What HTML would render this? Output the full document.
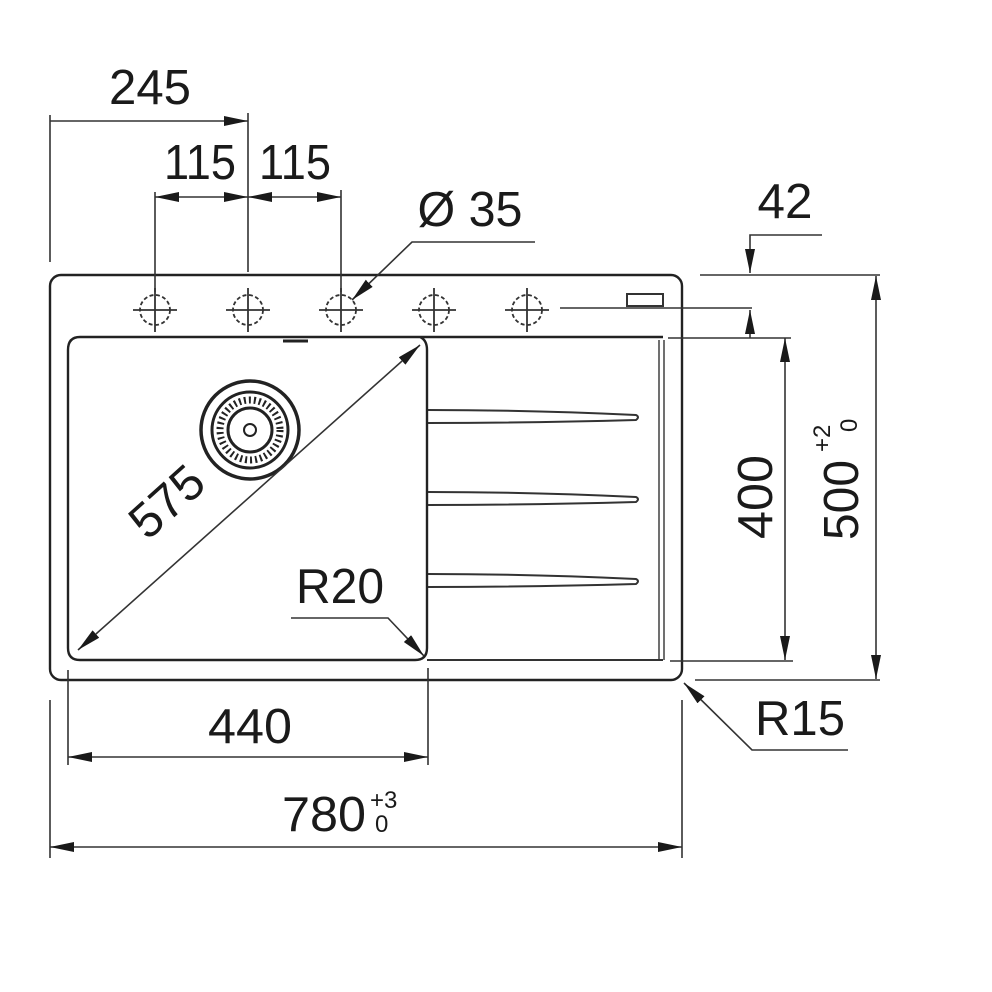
<!DOCTYPE html>
<html><head><meta charset="utf-8"><style>
html,body{margin:0;padding:0;background:#fff;}
svg{display:block}
text{font-family:"Liberation Sans",sans-serif;fill:#1a1a1a;}
</style></head><body>
<svg width="992" height="992" viewBox="0 0 992 992" xmlns="http://www.w3.org/2000/svg">
<defs>
<marker id="a" viewBox="0 0 24 10" refX="24" refY="5" markerWidth="24" markerHeight="10" markerUnits="userSpaceOnUse" orient="auto-start-reverse">
<path d="M0,0 L24,5 L0,10 Z" fill="#1a1a1a"/></marker>
</defs>
<g fill="none" stroke="#333" stroke-width="1.6">
<rect x="50" y="275" width="632" height="405" rx="11" stroke-width="2.4" stroke="#222"/>
<path d="M80,337 H663 M80,337 Q68,337 68,350 V648 Q68,660 80,660 H415 Q427,660 427,648 V350 Q427,340 420,337" stroke-width="2.4" stroke="#222"/>
<path d="M427,660 H663" stroke-width="2"/>
<path d="M659,340 V660 M664,340 V660" stroke-width="1.4"/>
<path d="M283,341 H308" stroke-width="3" stroke="#222"/>
<g stroke-width="2">
<path d="M428,410 Q530,410 636,415 Q640,417 636,420 Q530,423 428,423"/>
<path d="M428,492 Q530,492 636,497 Q640,499 636,502 Q530,505 428,505"/>
<path d="M428,574 Q530,574 636,579 Q640,581 636,584 Q530,587 428,587"/>
</g>
<g stroke-width="1.8">
<g stroke-dasharray="4,2.5">
<circle cx="155" cy="310" r="15"/><circle cx="248" cy="310" r="15"/><circle cx="341" cy="310" r="15"/><circle cx="434" cy="310" r="15"/><circle cx="527" cy="310" r="15"/>
</g>
<path d="M133,310h44M155,288v44 M226,310h44M248,288v44 M319,310h44M341,288v44 M412,310h44M434,288v44 M505,310h44M527,288v44"/>
</g>
<rect x="627" y="294" width="36" height="12" stroke-width="2"/>
<path d="M560,308 H752"/>
<g stroke="#222">
<circle cx="250" cy="430" r="49" stroke-width="3.5"/>
<circle cx="250" cy="430" r="38" stroke-width="3"/>
<circle cx="250" cy="430" r="30" stroke-width="7" stroke-dasharray="2,3"/>
<circle cx="250" cy="430" r="22" stroke-width="3"/>
<circle cx="250" cy="430" r="6" stroke-width="2"/>
</g>
<path d="M50,115 V262 M248,113 V272 M155,192 V292 M341,190 V292"/>
<path d="M50,121 H248" marker-end="url(#a)"/>
<path d="M155,197 H248" marker-start="url(#a)" marker-end="url(#a)"/>
<path d="M248,197 H341" marker-start="url(#a)" marker-end="url(#a)"/>
<path d="M535,242 H412 L352,300" marker-end="url(#a)"/>
<path d="M822,235 H750 V273" marker-end="url(#a)"/>
<path d="M750,338 V310" marker-end="url(#a)"/>
<path d="M700,275 H880 M668,338 H791 M670,661 H793 M695,680 H880"/>
<path d="M785,338 V660" marker-start="url(#a)" marker-end="url(#a)"/>
<path d="M876,276 V679" marker-start="url(#a)" marker-end="url(#a)"/>
<path d="M78,650 L420,345" marker-start="url(#a)" marker-end="url(#a)"/>
<path d="M291,618 H388 L424,656" marker-end="url(#a)"/>
<path d="M848,750 H752 L684,683" marker-end="url(#a)"/>
<path d="M68,670 V765 M428,668 V765 M50,700 V858 M682,700 V858"/>
<path d="M68,757 H428" marker-start="url(#a)" marker-end="url(#a)"/>
<path d="M50,847 H682" marker-start="url(#a)" marker-end="url(#a)"/>
</g>
<g font-size="49">
<text x="150" y="104" text-anchor="middle" textLength="82" lengthAdjust="spacingAndGlyphs">245</text>
<text x="200" y="179" text-anchor="middle" textLength="72" lengthAdjust="spacingAndGlyphs">115</text>
<text x="295" y="179" text-anchor="middle" textLength="72" lengthAdjust="spacingAndGlyphs">115</text>
<text x="470" y="226" text-anchor="middle" textLength="105" lengthAdjust="spacingAndGlyphs">Ø 35</text>
<text x="785" y="218" text-anchor="middle" textLength="55" lengthAdjust="spacingAndGlyphs">42</text>
<text x="340" y="603" text-anchor="middle" textLength="88" lengthAdjust="spacingAndGlyphs">R20</text>
<text x="800" y="735" text-anchor="middle" textLength="90" lengthAdjust="spacingAndGlyphs">R15</text>
<text x="250" y="743" text-anchor="middle" textLength="84" lengthAdjust="spacingAndGlyphs">440</text>
<text x="324" y="831" text-anchor="middle" textLength="84" lengthAdjust="spacingAndGlyphs">780</text>
<text transform="translate(178,514) rotate(-42)" text-anchor="middle" textLength="82" lengthAdjust="spacingAndGlyphs">575</text>
<text transform="translate(772,497) rotate(-90)" text-anchor="middle" textLength="84" lengthAdjust="spacingAndGlyphs">400</text>
<text transform="translate(858,500) rotate(-90)" text-anchor="middle" textLength="80" lengthAdjust="spacingAndGlyphs">500</text>
</g>
<g font-size="24">
<text x="370" y="808">+3</text>
<text x="375" y="832">0</text>
<text transform="translate(830,452) rotate(-90)">+2</text>
<text transform="translate(857,432) rotate(-90)">0</text>
</g>
</svg>
</body></html>
